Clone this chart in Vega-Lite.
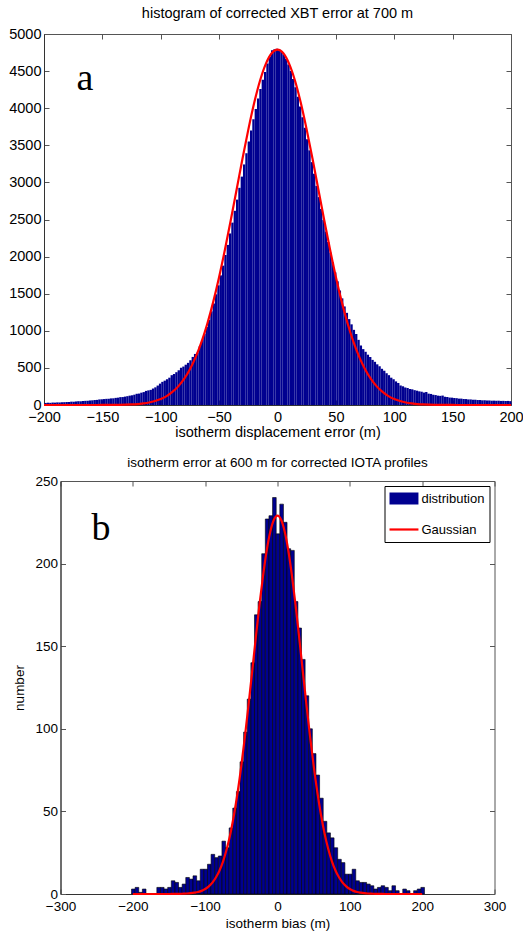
{
"$schema": "https://vega.github.io/schema/vega-lite/v6.json",
"padding": {"left": 8, "top": 5, "right": 0, "bottom": 0},
"background": "white",
"spacing": 76,
"bounds": "flush",
"center": true,
"resolve": {"scale": {"color": "independent", "strokeWidth": "independent"}, "legend": {"color": "independent", "strokeWidth": "independent"}},
"config": {
  "font": "Liberation Sans",
  "view": {"stroke": "#555", "strokeWidth": 1},
  "axis": {"labelFont": "Liberation Sans", "titleFont": "Liberation Sans", "labelColor": "#000", "titleColor": "#000", "titleFontWeight": "normal", "grid": false, "tickSize": -5, "tickColor": "#555", "domainColor": "#333", "labelPadding": 8, "labelFlush": false, "labelOverlap": false},
  "axisX": {"labelPadding": 10},
  "title": {"font": "Liberation Sans", "fontWeight": "normal", "color": "#000", "frame": "group"},
  "legend": {"orient": "top-right", "offset": 5, "padding": 5, "strokeColor": "#000", "fillColor": "#fff", "labelFont": "Liberation Sans", "labelFontSize": 13, "labelColor": "#000", "symbolSize": 9, "rowPadding": -10, "labelOffset": 17}
},
"datasets": {
  "top": [
{"x":-199,"n":28},{"x":-197,"n":31},{"x":-195,"n":29},{"x":-193,"n":33},{"x":-191,"n":32},{"x":-189,"n":35},{"x":-187,"n":34},{"x":-185,"n":37},{"x":-183,"n":38},{"x":-181,"n":40},
{"x":-179,"n":41},{"x":-177,"n":45},{"x":-175,"n":44},{"x":-173,"n":48},{"x":-171,"n":51},{"x":-169,"n":50},{"x":-167,"n":54},{"x":-165,"n":56},{"x":-163,"n":57},{"x":-161,"n":61},
{"x":-159,"n":63},{"x":-157,"n":67},{"x":-155,"n":69},{"x":-153,"n":75},{"x":-151,"n":77},{"x":-149,"n":80},{"x":-147,"n":83},{"x":-145,"n":84},{"x":-143,"n":89},{"x":-141,"n":90},
{"x":-139,"n":96},{"x":-137,"n":99},{"x":-135,"n":106},{"x":-133,"n":107},{"x":-131,"n":113},{"x":-129,"n":119},{"x":-127,"n":126},{"x":-125,"n":131},{"x":-123,"n":139},{"x":-121,"n":151},
{"x":-119,"n":154},{"x":-117,"n":166},{"x":-115,"n":174},{"x":-113,"n":190},{"x":-111,"n":197},{"x":-109,"n":204},{"x":-107,"n":222},{"x":-105,"n":238},{"x":-103,"n":262},{"x":-101,"n":288},
{"x":-99,"n":312},{"x":-97,"n":328},{"x":-95,"n":347},{"x":-93,"n":368},{"x":-91,"n":402},{"x":-89,"n":418},{"x":-87,"n":442},{"x":-85,"n":468},{"x":-83,"n":502},{"x":-81,"n":518},
{"x":-79,"n":543},{"x":-77,"n":568},{"x":-75,"n":603},{"x":-73,"n":648},{"x":-71,"n":688},{"x":-69,"n":705},{"x":-67,"n":790},{"x":-65,"n":872},{"x":-63,"n":958},{"x":-61,"n":1052},
{"x":-59,"n":1148},{"x":-57,"n":1262},{"x":-55,"n":1368},{"x":-53,"n":1492},{"x":-51,"n":1613},{"x":-49,"n":1747},{"x":-47,"n":1878},{"x":-45,"n":2022},{"x":-43,"n":2158},{"x":-41,"n":2312},
{"x":-39,"n":2458},{"x":-37,"n":2617},{"x":-35,"n":2768},{"x":-33,"n":2927},{"x":-31,"n":3078},{"x":-29,"n":3242},{"x":-27,"n":3393},{"x":-25,"n":3552},{"x":-23,"n":3698},{"x":-21,"n":3852},
{"x":-19,"n":3988},{"x":-17,"n":4132},{"x":-15,"n":4258},{"x":-13,"n":4382},{"x":-11,"n":4488},{"x":-9,"n":4602},{"x":-7,"n":4698},{"x":-5,"n":4782},{"x":-3,"n":4795},{"x":-1,"n":4800},
{"x":1,"n":4790},{"x":3,"n":4772},{"x":5,"n":4722},{"x":7,"n":4668},{"x":9,"n":4588},{"x":11,"n":4502},{"x":13,"n":4393},{"x":15,"n":4282},{"x":17,"n":4153},{"x":19,"n":4022},
{"x":21,"n":3878},{"x":23,"n":3737},{"x":25,"n":3583},{"x":27,"n":3432},{"x":29,"n":3273},{"x":31,"n":3117},{"x":33,"n":2953},{"x":35,"n":2802},{"x":37,"n":2643},{"x":39,"n":2492},
{"x":41,"n":2338},{"x":43,"n":2197},{"x":45,"n":2053},{"x":47,"n":1922},{"x":49,"n":1788},{"x":51,"n":1667},{"x":53,"n":1543},{"x":55,"n":1437},{"x":57,"n":1328},{"x":59,"n":1242},
{"x":61,"n":1158},{"x":63,"n":1087},{"x":65,"n":1013},{"x":67,"n":957},{"x":69,"n":878},{"x":71,"n":802},{"x":73,"n":753},{"x":75,"n":717},{"x":77,"n":678},{"x":79,"n":647},
{"x":81,"n":608},{"x":83,"n":582},{"x":85,"n":548},{"x":87,"n":522},{"x":89,"n":488},{"x":91,"n":462},{"x":93,"n":428},{"x":95,"n":402},{"x":97,"n":368},{"x":99,"n":347},
{"x":101,"n":318},{"x":103,"n":297},{"x":105,"n":263},{"x":107,"n":252},{"x":109,"n":236},{"x":111,"n":229},{"x":113,"n":216},{"x":115,"n":211},{"x":117,"n":200},{"x":119,"n":193},
{"x":121,"n":184},{"x":123,"n":179},{"x":125,"n":168},{"x":127,"n":175},{"x":129,"n":153},{"x":131,"n":149},{"x":133,"n":138},{"x":135,"n":134},{"x":137,"n":126},{"x":139,"n":123},
{"x":141,"n":127},{"x":143,"n":111},{"x":145,"n":108},{"x":147,"n":100},{"x":149,"n":99},{"x":151,"n":94},{"x":153,"n":92},{"x":155,"n":86},{"x":157,"n":86},{"x":159,"n":81},
{"x":161,"n":80},{"x":163,"n":75},{"x":165,"n":75},{"x":167,"n":71},{"x":169,"n":71},{"x":171,"n":67},{"x":173,"n":67},{"x":175,"n":63},{"x":177,"n":64},{"x":179,"n":61},
{"x":181,"n":61},{"x":183,"n":58},{"x":185,"n":59},{"x":187,"n":57},{"x":189,"n":58},{"x":191,"n":55},{"x":193,"n":56},{"x":195,"n":54},{"x":197,"n":55},{"x":199,"n":52}
  ],
  "topg": [
{"x":-200,"g":0},{"x":-195,"g":0},{"x":-190,"g":0},{"x":-185,"g":0},{"x":-180,"g":0},{"x":-175,"g":0},{"x":-170,"g":0},{"x":-165,"g":0},{"x":-160,"g":0.1},{"x":-155,"g":0.2},
{"x":-150,"g":0.5},{"x":-145,"g":0.9},{"x":-140,"g":1.6},{"x":-135,"g":3},{"x":-130,"g":5},{"x":-125,"g":8},{"x":-120,"g":13},{"x":-115,"g":22},{"x":-110,"g":34},{"x":-105,"g":53},
{"x":-100,"g":81},{"x":-95,"g":120},{"x":-90,"g":176},{"x":-85,"g":251},{"x":-80,"g":351},{"x":-75,"g":482},{"x":-70,"g":648},{"x":-65,"g":854},{"x":-60,"g":1102},{"x":-55,"g":1393},
{"x":-50,"g":1726},{"x":-45,"g":2096},{"x":-40,"g":2493},{"x":-35,"g":2905},{"x":-30,"g":3318},{"x":-25,"g":3711},{"x":-20,"g":4069},{"x":-15,"g":4370},{"x":-10,"g":4598},{"x":-5,"g":4741},
{"x":0,"g":4790},
{"x":5,"g":4741},{"x":10,"g":4598},{"x":15,"g":4370},{"x":20,"g":4069},{"x":25,"g":3711},{"x":30,"g":3318},{"x":35,"g":2905},{"x":40,"g":2493},{"x":45,"g":2096},{"x":50,"g":1726},
{"x":55,"g":1393},{"x":60,"g":1102},{"x":65,"g":854},{"x":70,"g":648},{"x":75,"g":482},{"x":80,"g":351},{"x":85,"g":251},{"x":90,"g":176},{"x":95,"g":120},{"x":100,"g":81},
{"x":105,"g":53},{"x":110,"g":34},{"x":115,"g":22},{"x":120,"g":13},{"x":125,"g":8},{"x":130,"g":5},{"x":135,"g":3},{"x":140,"g":1.6},{"x":145,"g":0.9},{"x":150,"g":0.5},
{"x":155,"g":0.2},{"x":160,"g":0.1},{"x":165,"g":0},{"x":170,"g":0},{"x":175,"g":0},{"x":180,"g":0},{"x":185,"g":0},{"x":190,"g":0},{"x":195,"g":0},{"x":200,"g":0}
  ],
  "bot": [
{"x":-200,"n":3},{"x":-195,"n":4},{"x":-190,"n":1},{"x":-185,"n":3},{"x":-180,"n":0},{"x":-175,"n":0},{"x":-170,"n":0},{"x":-165,"n":4},{"x":-160,"n":4},{"x":-155,"n":3},
{"x":-150,"n":4},{"x":-145,"n":8},{"x":-140,"n":7},{"x":-135,"n":4},{"x":-130,"n":6},{"x":-125,"n":10},{"x":-120,"n":9},{"x":-115,"n":11},{"x":-110,"n":8},{"x":-105,"n":15},
{"x":-100,"n":15},{"x":-95,"n":18},{"x":-90,"n":24},{"x":-85,"n":22},{"x":-80,"n":23},{"x":-75,"n":32},{"x":-70,"n":28},{"x":-65,"n":40},{"x":-60,"n":52},{"x":-55,"n":62},
{"x":-50,"n":80},{"x":-45,"n":98},{"x":-40,"n":118},{"x":-35,"n":140},{"x":-30,"n":169},{"x":-25,"n":177},{"x":-20,"n":206},{"x":-15,"n":227},{"x":-10,"n":229},{"x":-5,"n":240},
{"x":0,"n":218},{"x":5,"n":236},{"x":10,"n":225},{"x":15,"n":209},{"x":20,"n":208},{"x":25,"n":177},{"x":30,"n":161},{"x":35,"n":142},{"x":40,"n":120},{"x":45,"n":100},
{"x":50,"n":85},{"x":55,"n":72},{"x":60,"n":58},{"x":65,"n":44},{"x":70,"n":37},{"x":75,"n":34},{"x":80,"n":28},{"x":85,"n":21},{"x":90,"n":19},{"x":95,"n":12},
{"x":100,"n":12},{"x":105,"n":15},{"x":110,"n":8},{"x":115,"n":7},{"x":120,"n":7},{"x":125,"n":6},{"x":130,"n":5},{"x":135,"n":3},{"x":140,"n":4},{"x":145,"n":5},
{"x":150,"n":4},{"x":155,"n":2},{"x":160,"n":5},{"x":165,"n":2},{"x":170,"n":0},{"x":175,"n":3},{"x":180,"n":2},{"x":185,"n":0},{"x":190,"n":2},{"x":195,"n":3},{"x":200,"n":4}
  ],
  "botg": [
{"x":-200,"g":0},{"x":-190,"g":0},{"x":-180,"g":0},{"x":-170,"g":0},{"x":-160,"g":0},{"x":-150,"g":0},{"x":-140,"g":0.1},{"x":-135,"g":0.1},{"x":-130,"g":0.2},{"x":-125,"g":0.3},
{"x":-120,"g":0.5},{"x":-115,"g":0.8},{"x":-110,"g":1.2},{"x":-105,"g":1.9},{"x":-100,"g":3},{"x":-95,"g":4.6},{"x":-90,"g":6.9},{"x":-85,"g":10.1},{"x":-80,"g":14.4},{"x":-75,"g":20.1},
{"x":-70,"g":27.5},{"x":-65,"g":36.8},{"x":-60,"g":48.3},{"x":-55,"g":61.9},{"x":-50,"g":77.7},{"x":-45,"g":95.4},{"x":-40,"g":114.6},{"x":-35,"g":134.8},{"x":-30,"g":155.2},{"x":-25,"g":174.8},
{"x":-20,"g":192.6},{"x":-15,"g":207.8},{"x":-10,"g":219.3},{"x":-5,"g":226.5},{"x":0,"g":229},{"x":5,"g":226.5},{"x":10,"g":219.3},{"x":15,"g":207.8},{"x":20,"g":192.6},{"x":25,"g":174.8},
{"x":30,"g":155.2},{"x":35,"g":134.8},{"x":40,"g":114.6},{"x":45,"g":95.4},{"x":50,"g":77.7},{"x":55,"g":61.9},{"x":60,"g":48.3},{"x":65,"g":36.8},{"x":70,"g":27.5},{"x":75,"g":20.1},
{"x":80,"g":14.4},{"x":85,"g":10.1},{"x":90,"g":6.9},{"x":95,"g":4.6},{"x":100,"g":3},{"x":105,"g":1.9},{"x":110,"g":1.2},{"x":115,"g":0.8},{"x":120,"g":0.5},{"x":125,"g":0.3},
{"x":130,"g":0.2},{"x":135,"g":0.1},{"x":140,"g":0.1},{"x":150,"g":0},{"x":160,"g":0},{"x":170,"g":0},{"x":180,"g":0},{"x":190,"g":0},{"x":200,"g":0}
  ]
},
"vconcat": [
  {
    "width": 467, "height": 371,
    "title": {"text": "histogram of corrected XBT error at 700 m", "fontSize": 14.5, "offset": 5},
    "layer": [
      {
        "data": {"name": "top"},
        "mark": {"type": "bar", "color": "#000090", "binSpacing": 0},
        "encoding": {
          "x": {"field": "x", "type": "quantitative", "bin": {"extent": [-200, 200], "step": 2, "nice": false},
                "scale": {"domain": [-200, 200], "nice": false, "zero": false},
                "axis": {"orient": "bottom", "values": [-200,-150,-100,-50,0,50,100,150,200], "format": "d", "title": "isotherm displacement error (m)", "labelFontSize": 14.5, "titleFontSize": 14.5, "titlePadding": 2}},
          "y": {"field": "n", "type": "quantitative", "aggregate": "sum",
                "scale": {"domain": [0, 5000], "nice": false},
                "axis": {"orient": "left", "values": [0,500,1000,1500,2000,2500,3000,3500,4000,4500,5000], "format": "d", "title": null, "labelFontSize": 14.5}}
        }
      },
      {
        "data": {"name": "topg"},
        "mark": {"type": "line", "color": "#ff0000", "strokeWidth": 2.2, "interpolate": "monotone"},
        "encoding": {
          "x": {"field": "x", "type": "quantitative", "scale": {"domain": [-200, 200], "nice": false, "zero": false},
                "axis": {"orient": "top", "labels": false, "domain": false, "title": null, "values": [-200,-150,-100,-50,0,50,100,150,200]}},
          "y": {"field": "g", "type": "quantitative", "scale": {"domain": [0, 5000], "nice": false},
                "axis": {"orient": "right", "labels": false, "domain": false, "title": null, "values": [0,500,1000,1500,2000,2500,3000,3500,4000,4500,5000]}}
        }
      },
      {
        "data": {"values": [{}]},
        "mark": {"type": "text", "font": "Liberation Serif", "fontSize": 38, "color": "#000", "baseline": "middle", "align": "center", "text": "a"},
        "encoding": {
          "x": {"datum": -165, "type": "quantitative", "axis": null, "scale": {"domain": [-200, 200], "nice": false, "zero": false}},
          "y": {"datum": 4400, "type": "quantitative", "axis": null, "scale": {"domain": [0, 5000], "nice": false}}
        }
      }
    ],
    "resolve": {"axis": {"x": "independent", "y": "independent"}}
  },
  {
    "width": 434, "height": 413,
    "title": {"text": "isotherm error at 600 m for corrected IOTA profiles", "fontSize": 13.5, "offset": 5},
    "layer": [
      {
        "data": {"name": "bot"},
        "mark": {"type": "bar", "stroke": "#000", "strokeWidth": 0.6, "binSpacing": 0},
        "encoding": {
          "x": {"field": "x", "type": "quantitative", "bin": {"extent": [-202.5, 202.5], "step": 5, "nice": false},
                "scale": {"domain": [-300, 300], "nice": false, "zero": false},
                "axis": {"orient": "bottom", "values": [-300,-200,-100,0,100,200,300], "format": "d", "title": "isotherm bias (m)", "labelFontSize": 13.5, "titleFontSize": 13.5, "titlePadding": 4}},
          "y": {"field": "n", "type": "quantitative", "aggregate": "sum",
                "scale": {"domain": [0, 250], "nice": false},
                "axis": {"orient": "left", "values": [0,50,100,150,200,250], "format": "d", "title": "number", "labelFontSize": 13.5, "titleFontSize": 13.5, "titlePadding": 8}},
          "color": {"datum": "distribution",
                    "scale": {"domain": ["distribution", "Gaussian"], "range": ["#000090", "#ff0000"]},
                    "legend": {"title": null, "symbolType": "M-5,0H14.3"}}
        }
      },
      {
        "data": {"name": "botg"},
        "mark": {"type": "line", "interpolate": "monotone"},
        "encoding": {
          "x": {"field": "x", "type": "quantitative", "scale": {"domain": [-300, 300], "nice": false, "zero": false},
                "axis": {"orient": "top", "labels": false, "domain": false, "title": null, "values": [-300,-200,-100,0,100,200,300]}},
          "y": {"field": "g", "type": "quantitative", "scale": {"domain": [0, 250], "nice": false},
                "axis": {"orient": "right", "labels": false, "domain": false, "title": null, "values": [0,50,100,150,200,250]}},
          "color": {"datum": "Gaussian", "legend": {"title": null, "symbolType": "M-5,0H14.3"}},
          "strokeWidth": {"datum": "Gaussian", "type": "ordinal",
                          "scale": {"type": "ordinal", "domain": ["distribution", "Gaussian"], "range": [12, 2.2]},
                          "legend": {"title": null, "symbolType": "M-5,0H14.3"}}
        }
      },
      {
        "data": {"values": [{}]},
        "mark": {"type": "text", "font": "Liberation Serif", "fontSize": 38, "color": "#000", "baseline": "middle", "align": "center", "text": "b"},
        "encoding": {
          "x": {"datum": -244, "type": "quantitative", "axis": null, "scale": {"domain": [-300, 300], "nice": false, "zero": false}},
          "y": {"datum": 221, "type": "quantitative", "axis": null, "scale": {"domain": [0, 250], "nice": false}}
        }
      }
    ],
    "resolve": {"axis": {"x": "independent", "y": "independent"}}
  }
]
}
